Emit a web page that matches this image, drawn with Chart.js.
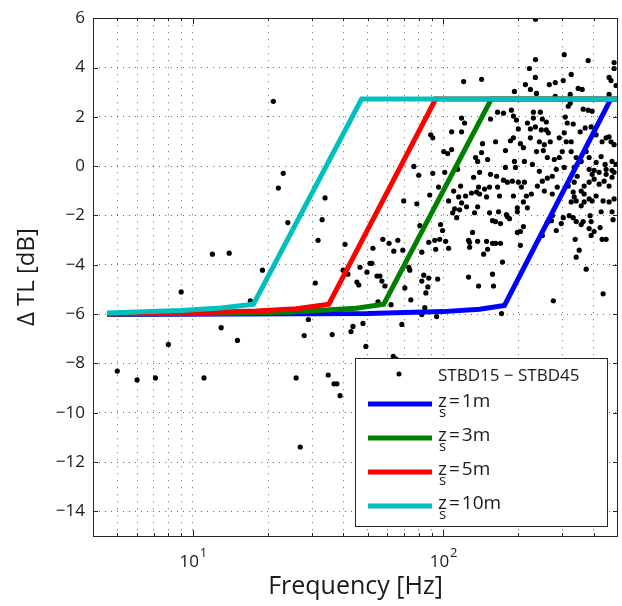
<!DOCTYPE html>
<html>
<head>
  <meta charset="utf-8">
  <title>Delta TL vs frequency</title>
  <style>
    body { margin: 0; background: #fff; }
    #wrap { width: 622px; height: 606px; }
  </style>
</head>
<body>
  <div id="wrap">
    <canvas id="myChart" width="622" height="606" aria-label="Chart" role="img"></canvas>
  </div>

  <script src="https://cdn.jsdelivr.net/npm/chart.js"></script>
  <script>

    // measured points STBD15-STBD45 (frequency in Hz, delta TL in dB)
    const scatterFreq = [
      5.0, 6.0, 7.1, 8.0, 9.0, 11.1, 12.0, 13.0, 14.0, 15.1, 17.0, 19.0, 21.0, 22.0, 23.0, 24.0, 25.9, 26.9,
      27.9, 29.0, 30.9, 31.7, 32.9, 33.8, 34.8, 36.1, 36.7, 37.7, 38.8,
      40.6, 39.9, 41.7, 42.9, 43.7, 45.3, 46.1, 46.6, 47.9, 49.2, 49.7, 51.1, 52.0, 52.5, 54.5, 55.0, 56.0,
      57.0, 57.5, 58.6, 60.9, 62.0, 63.3, 63.6, 65.0, 66.0, 68.5, 69.1, 69.7, 70.4, 73.0, 73.7, 74.4, 76.5,
      78.6, 80.0, 80.8, 82.3, 82.3, 82.3, 83.8, 84.6, 85.4, 87.0, 87.7, 87.7, 88.5, 91.0, 92.7, 93.5, 94.3,
      95.2, 96.0, 97.0, 97.8, 99.6, 101.6, 102.5, 105.3, 105.3, 109.3, 110.3, 111.3, 113.4, 114.4, 115.5,
      116.5, 117.6, 118.7, 123.1, 124.2, 126.5, 126.5, 127.7, 127.7, 130.0, 131.2, 132.5, 133.7, 136.2,
      137.5, 137.5, 137.5, 138.7, 138.7, 140.0, 140.0, 145.3, 146.6, 149.3, 149.3, 150.7, 153.4, 153.4,
      154.8, 157.7, 157.7, 157.7, 159.1, 162.2, 162.2, 163.7, 165.2, 166.7, 168.2, 169.7, 169.7, 171.3,
      172.8, 174.4, 179.2, 180.8, 180.8, 184.3, 189.3, 191.1, 198.1, 198.1, 198.1, 199.9, 203.8, 203.8,
      205.7, 209.5, 209.5, 211.4, 215.3, 217.3, 225.4, 238.2, 249.3, 249.3, 253.9, 261.0, 261.0, 270.9,
      273.3, 273.3, 273.3, 275.8, 283.4, 286.0, 296.7, 302.2, 316.4, 319.3, 325.1, 331.2, 331.2, 334.2,
      334.2, 337.3, 340.4, 340.4, 340.4, 343.5, 349.9, 356.4, 356.4, 356.4, 363.0, 366.3, 366.3, 366.3,
      373.1, 383.5, 383.5, 383.5, 387.0, 390.6, 390.6, 394.2, 394.2, 401.5, 401.5, 408.9, 420.3, 420.3,
      424.2, 428.1, 432.0, 436.0, 436.0, 440.0, 448.2, 448.2, 460.6, 460.6, 473.3, 473.3, 477.7, 482.2,
      482.2,
      234.1, 305.0, 234.1, 380.0, 482.2, 482.2, 221.3, 325.1, 233.9, 460.6, 469.0, 491.1, 213.4, 265.8,
      280.8, 302.2, 346.7, 359.7, 192.9, 223.4, 236.3, 280.8, 322.2, 460.6, 142.6, 120.9, 322.2, 316.4,
      187.7, 165.2, 174.4, 191.1, 154.8, 196.5, 229.6, 244.8, 229.6, 249.3, 258.6, 307.8, 313.5, 331.2,
      363.0, 380.0, 394.2, 217.3, 223.4, 233.9, 247.0, 258.6, 263.4, 199.9, 191.1, 186.0, 203.8, 223.4,
      242.6, 253.9, 268.2, 291.3, 305.0, 310.6, 325.1, 353.2, 369.7, 390.6, 408.9, 432.0, 448.2, 460.6,
      469.0, 482.2, 143.9, 162.2, 177.6, 209.5, 211.4, 236.3, 251.6, 261.0, 278.3, 291.3, 299.5, 325.1,
      340.4, 356.4, 373.1, 383.5, 408.9, 428.1, 444.1, 473.3, 491.1, 142.6, 134.9, 150.7, 177.6, 192.9,
      194.7, 227.5, 242.6, 283.4, 305.0, 334.2, 383.5, 401.5, 448.2, 473.3,
      118.6, 122.0, 108.3, 118.6, 89.3, 91.0, 100.7, 104.4, 108.3
    ];
    const scatterDb = [
      -8.31, -8.67, -8.59, -7.23, -5.10, -8.59, -3.57, -6.55, -3.53, -7.07, -5.46, -4.22, 2.63, -0.89, -0.29, -2.29, -8.59, -11.39,
      -6.87, -6.22, -4.74, -3.01, -2.17, -1.29, -8.47, -6.83, -8.83, -8.83, -9.31,
      -3.17, -4.22, -4.38, -6.71, -6.50, -4.70, -4.82, -4.10, -6.38, -7.31, -4.30, -3.94, -3.94, -3.33, -4.46, -5.50, -4.46,
      -4.66, -2.97, -4.86, -3.13, -5.62, -7.71, -3.45, -7.83, -3.01, -6.42, -3.41, -1.41, -4.94, -4.10, -4.22, -5.42, -0.01,
      -1.53, -0.37, -2.41, -3.49, -4.66, -6.02, -4.42, -5.74, -5.14, -4.90, -4.54, -3.09, -1.17, -0.29, -3.01, -3.37, -6.10,
      -4.58, -0.85, -2.97, -2.37, -2.61, -0.25, -3.05, -1.41, -3.33, -1.89, -1.01, -1.73, -2.09, -0.13, -1.25,
      -1.77, -0.81, -1.49, -1.21, -1.65, -3.01, -4.50, -3.09, -3.29, -1.09, -2.69, -0.45, -1.89, -1.05,
      0.19, -1.65, -3.05, -0.85, -4.86, -0.25, -1.13, -3.57, -0.93, -1.25, -3.05, -3.37, -0.85, -1.89,
      -0.33, -2.21, -3.13, -4.38, -4.86, -2.25, -3.13, -0.41, -0.85, -1.85, -1.21, -2.33, -3.13, -5.98,
      -3.89, -0.57, -1.97, -0.65, -2.05, -2.13, -0.61, -1.21, -1.69, -1.85, -2.69, -0.65, -2.65, -3.21,
      -0.85, -1.45, -2.45, -0.65, -1.21, -1.69, -1.13, -0.81, -0.61, -2.81, -1.01, -0.49, -2.29, -2.21,
      -0.41, -1.13, -2.01, -5.46, -2.61, -0.85, -2.33, -2.09, -0.81, -2.01, -1.45, -1.05, -2.09, -0.65,
      -1.25, -2.97, -1.41, -2.25, -3.69, -0.41, -3.41, -1.01, -1.61, -2.37, -2.25, -0.81, -1.13, -1.45,
      -4.18, -0.65, -1.33, -2.53, -2.01, -2.25, -2.81, -0.33, -1.41, -0.53, -2.65, -1.21, -0.25, -0.73,
      -2.49, -1.85, -2.97, -1.41, -5.18, -0.61, -0.33, -2.97, -0.81, -1.45, -0.45, -1.85, -2.17, -0.25,
      -1.33,
      5.96, 4.52, 4.32, 4.28, 4.20, 3.96, 3.96, 3.72, 3.60, 3.60, 3.47, 3.27, 3.31, 3.31,
      3.39, 3.47, 3.15, 3.11, 3.03, 3.11, 2.95, 2.83, 2.91, 2.91, 3.52, 3.43, 2.55, 2.43,
      2.27, 2.19, 2.15, 2.03, 1.91, 1.87, 2.19, 2.19, 1.95, 1.91, 1.79, 1.99, 1.75, 1.71,
      2.31, 2.27, 2.23, 1.75, 1.51, 1.59, 1.47, 1.47, 1.35, 1.51, 1.15, 1.03, 0.91, 1.15,
      0.99, 0.87, 0.99, 1.15, 1.35, 0.99, 0.99, 1.39, 1.55, 1.59, 1.27, 0.99, 1.15, 1.19,
      0.99, 0.87, 0.91, 0.99, 0.63, 0.75, 0.19, 0.59, 0.63, 0.35, 0.27, 0.35, 0.59, 0.59,
      0.35, 0.19, 0.59, 0.35, 0.15, 0.39, 0.07, 0.19, 0.07, 0.55, 0.35, 0.27, -0.05, 0.19,
      -0.05, 0.07, -0.21, -0.13, -0.05, -0.05, -0.13, -0.17, -0.13, -0.17,
      1.95, 1.75, 1.39, 1.39, 1.27, 1.15, 0.59, 0.51, 0.67
    ];

    // model curves, one per source depth
    const zs1Freq = [4.55, 50, 100, 140, 176, 468, 500];
    const zs1Db = [-6.02, -5.98, -5.90, -5.80, -5.65, 2.72, 2.72];
    const zs3Freq = [4.55, 15, 25, 45, 58, 156, 500];
    const zs3Db = [-6.0, -5.97, -5.92, -5.76, -5.60, 2.72, 2.72];
    const zs5Freq = [4.55, 10, 18, 26, 35, 93.5, 500];
    const zs5Db = [-6.0, -5.95, -5.87, -5.78, -5.60, 2.72, 2.72];
    const zs10Freq = [4.55, 9, 13, 17.5, 47.3, 500];
    const zs10Db = [-5.96, -5.85, -5.75, -5.60, 2.72, 2.72];

    const seriesNames = ['1m', '3m', '5m', '10m'];
    const seriesColors = ['#0000ff', '#008000', '#ff0000', '#00bfbf'];
    const scatterName = 'STBD15 \u2212 STBD45';

    // axes
    const yTicks = [-14, -12, -10, -8, -6, -4, -2, 0, 2, 4, 6];
    const xGridTicks = [5, 6, 7, 8, 9, 10, 20, 30, 40, 50, 60, 70, 80, 90, 100, 200, 300, 400];
    const xLabelTicks = [10, 100];
    const xLabelExps = ['1', '2'];

    const FONT = "'Open Sans', sans-serif";

    function toPoints(xs, ys) {
      return xs.map((v, i) => ({ x: v, y: ys[i] }));
    }

    function lineSet(name, xs, ys, color, order) {
      return {
        label: name,
        data: toPoints(xs, ys),
        showLine: true,
        borderColor: color,
        backgroundColor: color,
        borderWidth: 5,
        borderCapStyle: 'butt',
        borderJoinStyle: 'miter',
        pointRadius: 0,
        tension: 0,
        order: order
      };
    }

    // exponent tick labels, inside ticks, box and legend
    const extrasPlugin = {
      id: 'extras',
      afterDraw(chart) {
        const { ctx, chartArea: a, scales: { x, y } } = chart;
        ctx.save();

        // inside tick marks
        ctx.strokeStyle = '#262626';
        ctx.lineWidth = 1;
        ctx.beginPath();
        yTicks.forEach(v => {
          const py = Math.round(y.getPixelForValue(v)) + 0.5;
          ctx.moveTo(a.left, py); ctx.lineTo(a.left + 5, py);
          ctx.moveTo(a.right, py); ctx.lineTo(a.right - 5, py);
        });
        xGridTicks.forEach(v => {
          const px = Math.round(x.getPixelForValue(v)) + 0.5;
          const len = xLabelTicks.includes(v) ? 6 : 3;
          ctx.moveTo(px, a.bottom); ctx.lineTo(px, a.bottom - len);
          ctx.moveTo(px, a.top); ctx.lineTo(px, a.top + len);
        });
        ctx.stroke();

        // axes box
        ctx.strokeRect(Math.round(a.left) + 0.5, Math.round(a.top) + 0.5,
          Math.round(a.right - a.left) - 1, Math.round(a.bottom - a.top));

        // x tick labels 10^1, 10^2
        ctx.fillStyle = '#1a1a1a';
        ctx.textBaseline = 'alphabetic';
        xLabelTicks.forEach((v, i) => {
          const px = x.getPixelForValue(v);
          ctx.font = '17px ' + FONT;
          ctx.textAlign = 'center';
          ctx.fillText('10', px - 3.5, a.bottom + 31);
          ctx.font = '13px ' + FONT;
          ctx.textAlign = 'left';
          ctx.fillText(xLabelExps[i], px + 7, a.bottom + 21);
        });

        // legend
        const lw = 252, lh = 168;
        const lx = Math.round(a.right - 11 - lw), ly = Math.round(a.bottom - 10 - lh);
        ctx.fillStyle = '#fff';
        ctx.fillRect(lx, ly, lw, lh);
        ctx.strokeStyle = '#262626';
        ctx.lineWidth = 1;
        ctx.strokeRect(lx + 0.5, ly + 0.5, lw, lh);

        ctx.fillStyle = '#000';
        ctx.beginPath();
        ctx.arc(lx + 44, ly + 16, 2.5, 0, Math.PI * 2);
        ctx.fill();
        ctx.fillStyle = '#1a1a1a';
        ctx.font = '17px ' + FONT;
        ctx.textAlign = 'left';
        ctx.fillText(scatterName, lx + 83, ly + 23);

        seriesNames.forEach((name, i) => {
          const cy = ly + 46 + i * 34;
          ctx.strokeStyle = seriesColors[i];
          ctx.lineWidth = 5;
          ctx.beginPath();
          ctx.moveTo(lx + 13, cy); ctx.lineTo(lx + 77, cy);
          ctx.stroke();
          const tx = lx + 83;
          ctx.fillStyle = '#1a1a1a';
          ctx.font = '19px ' + FONT;
          ctx.fillText('z', tx, cy + 3);
          ctx.font = '15px ' + FONT;
          ctx.fillText('s', tx + 1, cy + 13);
          ctx.font = '19px ' + FONT;
          ctx.fillText('=', tx + 11, cy + 3);
          const eq = ctx.measureText('=').width;
          ctx.fillText(name, tx + 13 + eq, cy + 3);
        });

        ctx.restore();
      }
    };

    const data = {
      datasets: [
        lineSet('zs=10m', zs10Freq, zs10Db, seriesColors[3], 0),
        lineSet('zs=5m', zs5Freq, zs5Db, seriesColors[2], 1),
        lineSet('zs=3m', zs3Freq, zs3Db, seriesColors[1], 2),
        lineSet('zs=1m', zs1Freq, zs1Db, seriesColors[0], 3),
        {
          label: scatterName,
          data: toPoints(scatterFreq, scatterDb),
          showLine: false,
          pointRadius: 2.6,
          pointBorderWidth: 0,
          pointBackgroundColor: '#000',
          pointBorderColor: '#000',
          order: 4
        }
      ]
    };

    const config = {
      type: 'scatter',
      data: data,
      options: {
        responsive: false,
        animation: false,
        devicePixelRatio: 1,
        layout: { padding: { top: 12, right: 4, left: 0, bottom: 0 } },
        plugins: {
          legend: { display: false },
          tooltip: { enabled: false }
        },
        scales: {
          x: {
            type: 'logarithmic',
            min: 4,
            max: 500,
            afterBuildTicks: s => { s.ticks = xGridTicks.map(v => ({ value: v })); },
            afterFit: s => { s.height = 70; },
            ticks: { display: false },
            grid: { color: 'rgba(0,0,0,0.6)', lineWidth: 1, drawTicks: false },
            border: { display: false, dash: [1, 6] },
            title: {
              display: true,
              text: 'Frequency [Hz]',
              color: '#1a1a1a',
              font: { family: FONT, size: 25 },
              padding: { top: 0, bottom: 4 }
            }
          },
          y: {
            type: 'linear',
            min: -15,
            max: 6,
            afterBuildTicks: s => { s.ticks = yTicks.map(v => ({ value: v })); },
            afterFit: s => { s.width = 93; },
            ticks: {
              color: '#1a1a1a',
              padding: 8,
              font: { family: FONT, size: 17 },
              callback: v => (v < 0 ? '\u2212' + Math.abs(v) : String(v))
            },
            grid: { color: 'rgba(0,0,0,0.6)', lineWidth: 1, drawTicks: false },
            border: { display: false, dash: [1, 5] },
            title: {
              display: true,
              text: '\u0394 TL [dB]',
              color: '#1a1a1a',
              font: { family: FONT, size: 24 },
              padding: { top: 13, bottom: 0 }
            }
          }
        }
      },
      plugins: [extrasPlugin]
    };

    var ctx = document.getElementById('myChart').getContext('2d');
    var myChart = new Chart(ctx, config);

  </script>
</body>
</html>
